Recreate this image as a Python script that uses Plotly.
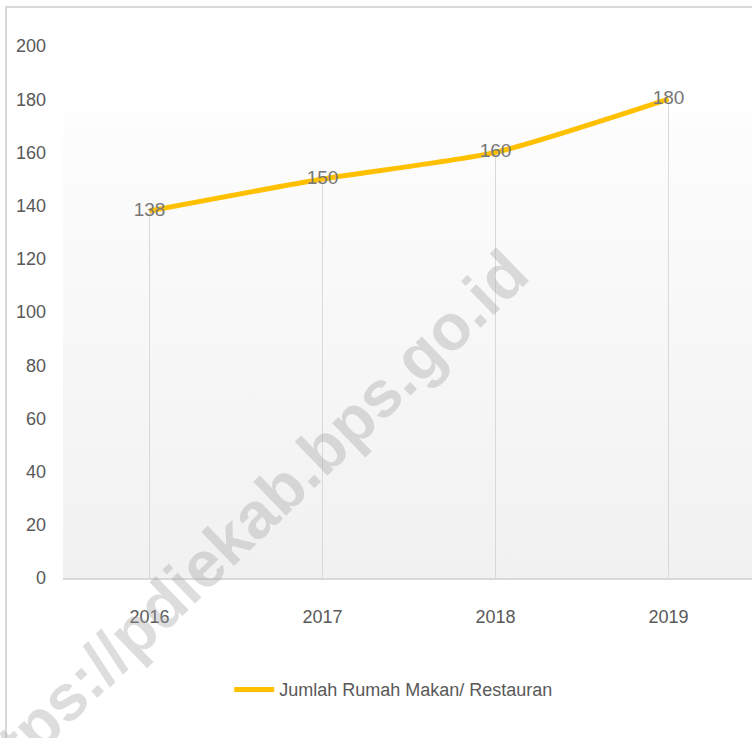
import plotly.graph_objects as go

years = ["2016", "2017", "2018", "2019"]
values = [138, 150, 160, 180]
series_name = "Jumlah Rumah Makan/ Restauran"
y_ticks = [0, 20, 40, 60, 80, 100, 120, 140, 160, 180, 200]

FONT = "Noto Sans ExtraCondensed, Noto Sans Condensed, Liberation Sans, sans-serif"
TXT = "#595959"
FS = 18

W, H = 752, 738
ML, MR, MT, MB = 63, 0, 46, 160
pw = W - ML - MR
ph = H - MT - MB

# drop lines built from the data
dx, dy = [], []
for c, v in zip(years, values):
    dx += [c, c, None]
    dy += [0, v, None]

fig = go.Figure()
fig.add_trace(go.Scatter(x=dx, y=dy, mode="lines", line=dict(color="#d9d9d9", width=1),
                         showlegend=False, hoverinfo="skip"))
fig.add_trace(go.Scatter(
    x=years, y=values, name=series_name, mode="lines+text",
    line=dict(color="#FFC000", width=5, shape="spline", smoothing=0.6),
    text=[str(v) for v in values], textposition="middle center",
    textfont=dict(family=FONT, size=19, color="#777777"),
))

svg = ("data:image/svg+xml;utf8,<svg xmlns='http://www.w3.org/2000/svg' width='100' height='100' "
       "preserveAspectRatio='none'><defs><linearGradient id='g' x1='0' y1='0' x2='0' y2='1'>"
       "<stop offset='0' stop-color='%23fdfdfd'/><stop offset='1' stop-color='%23f1f1f1'/>"
       "</linearGradient></defs><rect width='100' height='100' fill='url(%23g)'/></svg>")

grad_top = (ph - (113 - MT)) / ph

fig.update_layout(
    width=W, height=H,
    margin=dict(l=ML, r=MR, t=MT, b=MB),
    paper_bgcolor="white", plot_bgcolor="rgba(0,0,0,0)",
    font=dict(family=FONT, size=FS, color=TXT),
    showlegend=True,
    legend=dict(orientation="h", x=0.48, y=-0.21, xanchor="center", yanchor="middle",
                font=dict(family=FONT, size=FS, color=TXT), itemwidth=40),
    xaxis=dict(type="category", categoryorder="array", categoryarray=years,
               range=[-0.5, -0.5 + pw / 173.0], showgrid=False, zeroline=False,
               showline=True, linecolor="#d9d9d9", linewidth=2, ticks="",
               ticklabelstandoff=21, tickfont=dict(family=FONT, size=FS, color=TXT)),
    yaxis=dict(range=[0, 200], tickvals=y_ticks, showgrid=False, zeroline=False,
               showline=False, ticks="", ticklabelstandoff=16,
               tickfont=dict(family=FONT, size=FS, color=TXT)),
    images=[dict(source=svg, xref="paper", yref="paper", x=0, y=grad_top, sizex=1.05, sizey=grad_top,
                 xanchor="left", yanchor="top", sizing="stretch", layer="below")],
    shapes=[dict(type="rect", xref="paper", yref="paper",
                 x0=(6 - ML) / pw, x1=1.2, y0=-0.5, y1=1 + (MT - 7) / ph,
                 line=dict(color="#d9d9d9", width=2), fillcolor="rgba(0,0,0,0)", layer="below")],
    annotations=[dict(text="<b>https://pdiekab.bps.go.id</b>", xref="paper", yref="paper",
                      x=(239 - ML) / pw, y=(MT + ph - 529) / ph, xanchor="center", yanchor="middle",
                      showarrow=False, textangle=-44,
                      font=dict(family="Liberation Sans, Arial, sans-serif",
                                size=65, color="rgba(160,160,160,0.36)"))],
)

fig.write_html("out.html", config={"displayModeBar": False},
               post_script="document.body.style.margin='0';")
